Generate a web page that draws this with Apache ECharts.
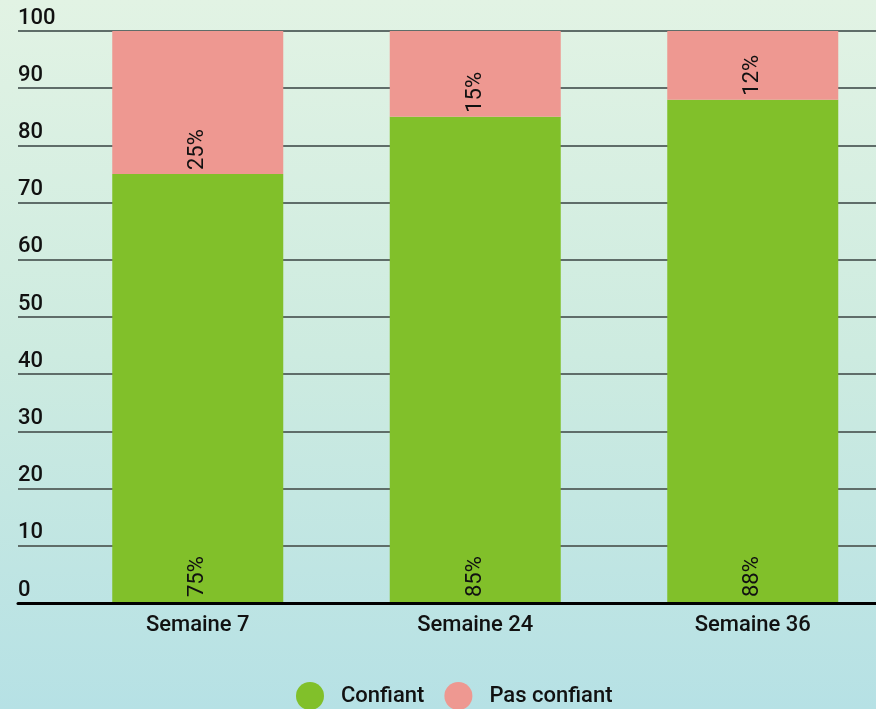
<!DOCTYPE html>
<html>
<head>
<meta charset="utf-8">
<script src="https://cdn.jsdelivr.net/npm/echarts@6/dist/echarts.min.js"></script>
<style>
html, body { margin: 0; padding: 0; }
#chart { width: 876px; height: 709px; }
</style>
</head>
<body>
<div id="chart"></div>
<script>
// données
var categories = ['Semaine 7', 'Semaine 24', 'Semaine 36'];
var confiant = [75, 85, 88];
var pasConfiant = [25, 15, 12];
var yTicks = [0, 10, 20, 30, 40, 50, 60, 70, 80, 90, 100];

var green = '#81c02a';
var pink = '#ee9891';
var font = 'Roboto, "Noto Sans", sans-serif';

var myChart = echarts.init(document.getElementById('chart'));
var option = {
    backgroundColor: new echarts.graphic.LinearGradient(0, 0, 0, 1, [
        {offset: 0, color: '#e2f3e4'},
        {offset: 0.5, color: '#cdebe0'},
        {offset: 1, color: '#b6e1e5'}
    ]),
    textStyle: {fontFamily: font},
    legend: {
        bottom: -6,
        left: 291,
        itemWidth: 28,
        itemHeight: 28,
        itemGap: 20,
        icon: 'circle',
        textStyle: {fontSize: 22, fontWeight: 500, color: '#111', padding: [0, 0, 0, 12]},
        data: ['Confiant', 'Pas confiant']
    },
    grid: [
        {left: 18, right: 0, top: 31, bottom: 106, outerBoundsMode: 'none'},
        {left: 59, width: 832.5, top: 31, bottom: 106, outerBoundsMode: 'none'}
    ],
    xAxis: [
        {
            gridIndex: 0, type: 'category', data: [''], z: 10,
            axisLine: {lineStyle: {color: '#000', width: 3}},
            axisTick: {show: false}, axisLabel: {show: false}
        },
        {
            gridIndex: 1, type: 'category', data: categories,
            axisLine: {show: false}, axisTick: {show: false},
            axisLabel: {fontSize: 22, fontWeight: 500, color: '#111', margin: 11}
        }
    ],
    yAxis: [
        {
            gridIndex: 0, type: 'value', min: 0, max: 100, interval: 10,
            axisLine: {show: false}, axisTick: {show: false},
            splitLine: {lineStyle: {color: '#5f6d69', width: 2}},
            axisLabel: {
                inside: true, margin: 0, fontSize: 22, fontWeight: 500, color: '#111',
                verticalAlign: 'bottom', padding: [0, 0, 2, 0],
                formatter: function (v) { return yTicks.indexOf(v) >= 0 ? String(v) : ''; }
            }
        },
        {
            gridIndex: 1, type: 'value', min: 0, max: 100, interval: 10,
            show: false
        }
    ],
    series: [
        {
            name: 'Confiant', type: 'bar', stack: 'total',
            xAxisIndex: 1, yAxisIndex: 1, barWidth: 171,
            itemStyle: {color: green},
            label: {
                show: true, position: 'insideBottom', rotate: 90, distance: 6,
                align: 'left', verticalAlign: 'middle',
                fontSize: 22, color: '#111', formatter: '{c}%'
            },
            data: confiant
        },
        {
            name: 'Pas confiant', type: 'bar', stack: 'total',
            xAxisIndex: 1, yAxisIndex: 1, barWidth: 171,
            itemStyle: {color: pink},
            label: {
                show: true, position: 'insideBottom', rotate: 90, distance: 4,
                align: 'left', verticalAlign: 'middle',
                fontSize: 22, color: '#111', formatter: '{c}%'
            },
            data: pasConfiant
        }
    ]
};
myChart.setOption(option);
</script>
</body>
</html>
